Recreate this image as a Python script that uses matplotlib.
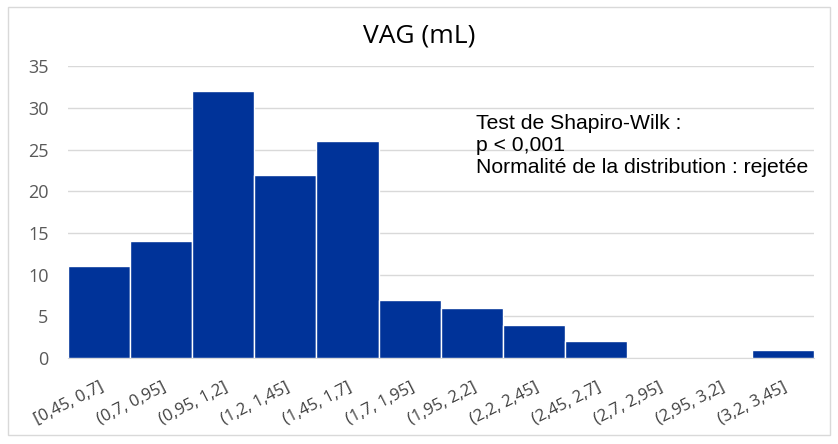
import matplotlib.pyplot as plt
from matplotlib.patches import Rectangle
import numpy as np

bins = ["[0,45, 0,7]", "(0,7, 0,95]", "(0,95, 1,2]", "(1,2, 1,45]", "(1,45, 1,7]",
        "(1,7, 1,95]", "(1,95, 2,2]", "(2,2, 2,45]", "(2,45, 2,7]", "(2,7, 2,95]",
        "(2,95, 3,2]", "(3,2, 3,45]"]
counts = [11, 14, 32, 22, 26, 7, 6, 4, 2, 0, 0, 1]
yticks = [0, 5, 10, 15, 20, 25, 30, 35]

fig = plt.figure(figsize=(8.38, 4.44), dpi=100)
fig.patches.append(Rectangle((0.010, 0.02), 0.980, 0.965, transform=fig.transFigure,
                             fill=False, edgecolor='#d9d9d9', linewidth=1))
ax = fig.add_axes([0.081, 0.194, 0.890, 0.657])

x = np.arange(len(bins))
ax.bar(x, counts, width=1.0, color='#003399', edgecolor='white', linewidth=1, zorder=3)
ax.set_xlim(-0.5, len(bins) - 0.5)
ax.set_ylim(0, 35)
ax.set_yticks(yticks)
ax.set_xticks(x)
ax.set_xticklabels(bins, rotation=27, ha='right', va='top', rotation_mode='anchor',
                   fontsize=12, color='#404040', family='Open Sans')
for lab in ax.get_yticklabels():
    lab.set_family('Open Sans')
ax.tick_params(axis='y', labelsize=13, labelcolor='#595959', length=0, pad=14)
ax.tick_params(axis='x', length=0, pad=15)
ax.grid(axis='y', color='#d9d9d9', linewidth=1, zorder=0)
for s in ['top', 'right', 'left']:
    ax.spines[s].set_visible(False)
ax.spines['bottom'].set_color('#d9d9d9')

fig.text(0.5, 0.92, "VAG (mL)", ha='center', va='center', fontsize=19,
         family='Open Sans', color='#000000')
ax.text(0.547, 0.835, "Test de Shapiro-Wilk :\np < 0,001\nNormalité de la distribution : rejetée",
        transform=ax.transAxes, ha='left', va='top', fontsize=15.2,
        family='Liberation Sans', linespacing=1.2, zorder=4)

fig.savefig("out.png", dpi=100)
